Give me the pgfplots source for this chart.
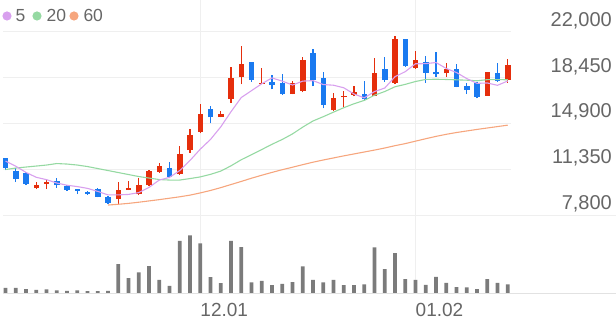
\documentclass[border=0pt]{standalone}
\usepackage{fontspec}
\setmainfont{Liberation Sans}
\usepackage{pgfplots}
\pgfplotsset{compat=1.18}
\usepackage{pgfplotstable}
\definecolor{candred}{HTML}{E52E0C}
\definecolor{candblue}{HTML}{1A7AF0}
\definecolor{maF}{HTML}{D8A0EE}
\definecolor{maT}{HTML}{95D9A2}
\definecolor{maS}{HTML}{F6A67E}
\definecolor{volgray}{HTML}{7B7B7B}
\definecolor{lbl}{HTML}{666666}
\definecolor{gridc}{HTML}{EFEFEF}
\definecolor{basec}{HTML}{E2E2E2}

\pgfplotstableread{
i O H L C
3 9860 10350 9810 10120
4 10200 10580 9810 10380
11 9010 10380 8650 9730
12 9730 10450 9730 9860
13 9400 10640 9340 10120
14 10120 11280 10040 11230
15 11150 11800 11070 11590
17 10970 13140 10890 12520
18 12830 14440 12620 14020
19 14250 16370 14130 15600
21 15390 15850 15370 15620
22 16780 19230 16510 18390
23 18470 20890 17910 19520
25 17910 19160 17910 18050
28 17170 18200 17150 18000
29 17390 20040 17290 19780
32 15910 17230 15840 16900
33 16920 17380 16170 17020
34 17100 17770 16990 17350
36 17030 19960 16990 18780
38 18030 21670 17970 21410
40 19160 20530 19110 19810
43 18780 19550 18510 19110
47 17040 18900 17020 18850
49 18260 19860 18050 19420
}\redtab

\pgfplotstableread{
i O H L C
0 12190 12210 11280 11410
1 11230 11440 10350 10580
2 11030 11150 10120 10200
5 10450 10660 9910 10100
6 10070 10120 9680 9730
7 9830 9850 9420 9680
8 9550 9630 9370 9420
9 9790 9860 9170 9210
10 9210 9290 8650 8750
16 11410 11920 10640 10760
20 16010 16220 14900 15370
24 19640 19650 18130 18260
26 18130 18650 17540 17870
27 18060 18750 17100 17160
30 20350 20680 17770 18230
31 18450 18840 16060 16360
35 17170 18160 16710 16760
37 19130 20060 18130 18260
39 21410 21420 19290 19320
41 19680 20120 18050 18820
42 18850 20450 18510 18700
44 19110 19470 17690 17740
45 17820 18050 17170 17480
46 18000 18130 16840 16960
48 18780 19550 18130 18200
}\bluetab

\pgfplotstableread{
i m5 m20
0 11980 11321
1 11580 11437
2 11100 11515
3 10720 11592
4 10538 11670
5 10276 11786
6 10106 11747
7 10002 11670
8 9862 11553
9 9628 11398
10 9358 11244
11 9358 11089
12 9394 10934
13 9534 10779
14 9938 10662
15 10506 10546
16 10712 10507
17 11244 10507
18 12024 10623
19 12898 10750
20 13654 10948
21 14626 11200
22 15800 11610
23 16900 12080
24 17432 12474
25 17968 12872
26 18418 13278
27 18172 13652
28 17868 14082
29 18172 14610
30 18208 15084
31 17906 15416
32 17854 15768
33 17658 16112
34 17172 16418
35 16878 16677
36 17362 17078
37 17634 17365
38 18512 17734
39 18906 17920
40 19516 18142
41 19524 18302
42 19612 18318
43 19152 18298
44 18836 18272
45 18370 18243
46 17998 18198
47 18028 18282
48 17846 18292
49 18182 18274
}\matab

\pgfplotstableread{
i m60
10 8570
11 8630
12 8700
13 8790
14 8890
15 8990
16 9100
17 9210
18 9340
19 9510
20 9700
21 9920
22 10160
23 10400
24 10650
25 10880
26 11100
27 11310
28 11500
29 11700
30 11890
31 12060
32 12220
33 12380
34 12530
35 12680
36 12830
37 12990
38 13170
39 13330
40 13520
41 13710
42 13890
43 14050
44 14190
45 14310
46 14430
47 14540
48 14650
49 14760
}\masixty

\pgfplotstableread{
i v
0 17000
1 17000
2 13000
3 11000
4 12000
5 9000
6 8000
7 9000
8 7000
9 7000
10 8000
11 88000
12 46000
13 63000
14 82000
15 41000
16 23000
17 158000
18 174000
19 150000
20 49000
21 31000
22 158000
23 139000
24 33000
25 38000
26 25000
27 29000
28 34000
29 81000
30 41000
31 33000
32 41000
33 25000
34 25000
35 27000
36 138000
37 73000
38 121000
39 43000
40 41000
41 26000
42 50000
43 32000
44 19000
45 18000
46 13000
47 43000
48 32000
49 27000
}\voltab

\begin{document}
\begin{tikzpicture}[x=1pt,y=1pt]
\begin{axis}[
  at={(3pt,106pt)}, anchor=south west, scale only axis,
  width=508pt, height=215pt,
  xmin=-0.244, xmax=49.317, ymin=7800, ymax=24456,
  scaled ticks=false,
  axis line style={draw=none}, major tick length=0pt,
  xtick={19,40}, xticklabels={}, xmajorgrids,
  ytick={7800,11350,14900,18450,22000},
  yticklabels={{7,800},{11,350},{14,900},{18,450},{22,000}},
  ymajorgrids,
  grid style={draw=gridc, line width=0.9pt},
  yticklabel pos=right,
  yticklabel style={anchor=base east, inner sep=0pt, xshift=101pt, yshift=5.5pt,
    font=\fontsize{20}{20}\selectfont, text=lbl},
]
\addplot[draw=none, mark=none, forget plot, error bars/.cd, y dir=plus, y explicit,
  error mark=none, error bar style={draw=candred, line width=1.1pt}]
  table[x=i, y=L, y error plus expr=\thisrow{H}-\thisrow{L}] {\redtab};
\addplot[draw=none, mark=none, forget plot, error bars/.cd, y dir=plus, y explicit,
  error mark=none, error bar style={draw=candred, line width=5.5pt}]
  table[x=i, y=O, y error plus expr=\thisrow{C}-\thisrow{O}] {\redtab};
\addplot[draw=none, mark=none, forget plot, error bars/.cd, y dir=plus, y explicit,
  error mark=none, error bar style={draw=candblue, line width=1.1pt}]
  table[x=i, y=L, y error plus expr=\thisrow{H}-\thisrow{L}] {\bluetab};
\addplot[draw=none, mark=none, forget plot, error bars/.cd, y dir=plus, y explicit,
  error mark=none, error bar style={draw=candblue, line width=5.5pt}]
  table[x=i, y=C, y error plus expr=\thisrow{O}-\thisrow{C}] {\bluetab};
\addplot[maS, line width=1.1pt, mark=none, line join=round] table[x=i, y=m60] {\masixty};
\addplot[maT, line width=1.1pt, mark=none, line join=round] table[x=i, y=m20] {\matab};
\addplot[maF, line width=1.1pt, mark=none, line join=round] table[x=i, y=m5] {\matab};
\end{axis}

\begin{axis}[
  at={(3pt,27.5pt)}, anchor=south west, scale only axis,
  width=508pt, height=78.5pt,
  xmin=-0.244, xmax=49.317, ymin=0, ymax=235500,
  scaled ticks=false,
  axis line style={draw=none}, major tick length=0pt,
  ytick=\empty,
  xtick={19,40}, xticklabels={12.01,01.02}, xmajorgrids,
  grid style={draw=gridc, line width=0.9pt},
  xticklabel style={anchor=base west, inner sep=0pt, yshift=-23pt,
    font=\fontsize{19}{19}\selectfont, text=lbl},
]
\addplot[ybar, bar width=3.8pt, fill=volgray, draw=none, bar shift=0pt] table[x=i, y=v] {\voltab};
\end{axis}

\draw[draw=gridc, line width=0.9pt] (3,106) -- (616,106);
\draw[draw=basec, line width=0.9pt] (3,27.5) -- (616,27.5);

\fill[maF] (7,305) circle (4.6);
\node[anchor=base west, inner sep=0pt, text=lbl, font=\fontsize{17.5}{17.5}\selectfont] at (15.5,299.3) {5};
\fill[maT] (37,305) circle (4.6);
\node[anchor=base west, inner sep=0pt, text=lbl, font=\fontsize{17.5}{17.5}\selectfont] at (46.5,299.3) {20};
\fill[maS] (74,305) circle (4.6);
\node[anchor=base west, inner sep=0pt, text=lbl, font=\fontsize{17.5}{17.5}\selectfont] at (83.3,299.3) {60};
\pgfresetboundingbox
\useasboundingbox (0,0) rectangle (616,321);
\end{tikzpicture}
\end{document}
